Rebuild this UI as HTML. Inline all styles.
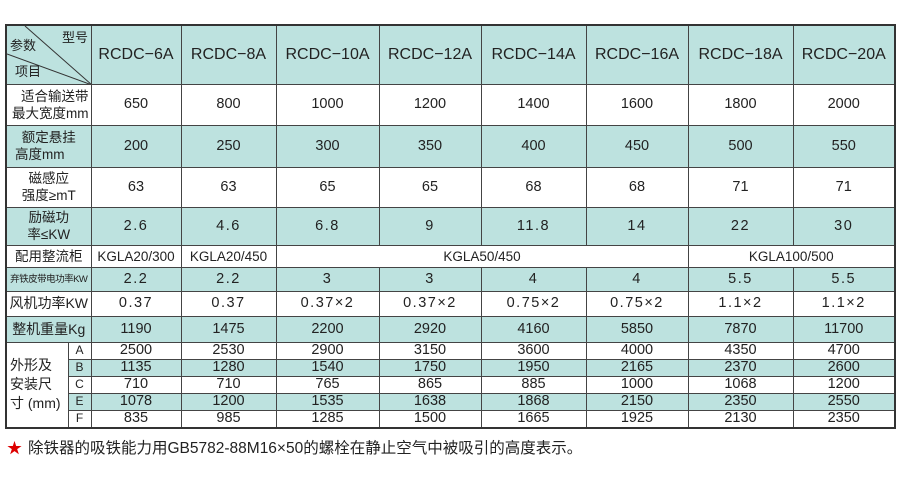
<!DOCTYPE html>
<html><head><meta charset="utf-8"><style>
body{margin:0;width:900px;height:488px;background:#fff;position:relative;overflow:hidden;font-family:"Liberation Sans","Noto Sans CJK SC",sans-serif;color:#222}
table{position:absolute;left:5px;top:24px;border-collapse:collapse;table-layout:fixed;border:2px solid #333}
td{border:1px solid #444;padding:0;text-align:center;font-size:14.5px;line-height:15px;overflow:hidden;white-space:nowrap}
.t td{background:#bde2df}
td.w{background:#fff!important}
.h td{font-size:16px}
.l{font-size:13.5px;line-height:17px}
.mono{letter-spacing:1.5px}
.foot{position:absolute;left:28px;top:436px;font-size:15.5px;font-family:"Liberation Sans","Noto Sans CJK SC",sans-serif;white-space:nowrap}
.star{position:absolute;left:7px;top:437px;color:#d00;font-size:15px}
</style></head><body>
<table>
<colgroup><col style="width:62px"><col style="width:23px"><col style="width:90px"><col style="width:95px"><col style="width:103px"><col style="width:102px"><col style="width:105px"><col style="width:102px"><col style="width:105px"><col style="width:102px"></colgroup>
<tr class="t h" style="height:59px"><td colspan="2" style="position:relative;text-align:left">
<svg width="85" height="59" style="position:absolute;left:0;top:0"><line x1="18" y1="0" x2="85" y2="59" stroke="#333" stroke-width="1"/><line x1="0" y1="28" x2="85" y2="59" stroke="#333" stroke-width="1"/></svg>
<span style="position:absolute;left:3px;top:12px;font-size:13px">参数</span><span style="position:absolute;left:55px;top:4px;font-size:13px">型号</span><span style="position:absolute;left:8px;top:38px;font-size:13px">项目</span></td>
<td>RCDC−6A</td><td>RCDC−8A</td><td>RCDC−10A</td><td>RCDC−12A</td><td>RCDC−14A</td><td>RCDC−16A</td><td>RCDC−18A</td><td>RCDC−20A</td></tr>
<tr style="height:41px"><td colspan="2" class="l" style="text-align:right;padding-right:2px">适合输送带<br>最大宽度mm</td><td>650</td><td>800</td><td>1000</td><td>1200</td><td>1400</td><td>1600</td><td>1800</td><td>2000</td></tr>
<tr class="t" style="height:42px"><td colspan="2" class="l">额定悬挂<br><span style="padding-right:18px">高度mm</span></td><td>200</td><td>250</td><td>300</td><td>350</td><td>400</td><td>450</td><td>500</td><td>550</td></tr>
<tr style="height:40px"><td colspan="2" class="l">磁感应<br>强度≥mT</td><td>63</td><td>63</td><td>65</td><td>65</td><td>68</td><td>68</td><td>71</td><td>71</td></tr>
<tr class="t mono" style="height:38px"><td colspan="2" class="l" style="letter-spacing:0">励磁功<br>率≤KW</td><td>2.6</td><td>4.6</td><td>6.8</td><td>9</td><td>11.8</td><td>14</td><td>22</td><td>30</td></tr>
<tr style="height:22px"><td colspan="2" class="l">配用整流柜</td><td style="font-size:13.5px">KGLA20/300</td><td style="font-size:13.5px">KGLA20/450</td><td colspan="4" style="font-size:13.5px">KGLA50/450</td><td colspan="2" style="font-size:13.5px">KGLA100/500</td></tr>
<tr class="t mono" style="height:24px"><td colspan="2" style="font-size:9.5px;letter-spacing:-0.5px">弃铁皮带电功率KW</td><td>2.2</td><td>2.2</td><td>3</td><td>3</td><td>4</td><td>4</td><td>5.5</td><td>5.5</td></tr>
<tr class="mono" style="height:25px"><td colspan="2" style="font-size:14px;letter-spacing:0">风机功率KW</td><td>0.37</td><td>0.37</td><td>0.37×2</td><td>0.37×2</td><td>0.75×2</td><td>0.75×2</td><td>1.1×2</td><td>1.1×2</td></tr>
<tr class="t" style="height:26px"><td colspan="2" style="font-size:14px">整机重量Kg</td><td>1190</td><td>1475</td><td>2200</td><td>2920</td><td>4160</td><td>5850</td><td>7870</td><td>11700</td></tr>
<tr style="height:17px"><td rowspan="5" class="w" style="text-align:left;font-size:14px;line-height:19px;padding-left:3px">外形及<br>安装尺<br>寸 (mm)</td><td style="font-size:12px">A</td><td>2500</td><td>2530</td><td>2900</td><td>3150</td><td>3600</td><td>4000</td><td>4350</td><td>4700</td></tr>
<tr class="t" style="height:17px"><td style="font-size:12px">B</td><td>1135</td><td>1280</td><td>1540</td><td>1750</td><td>1950</td><td>2165</td><td>2370</td><td>2600</td></tr>
<tr style="height:17px"><td style="font-size:12px">C</td><td>710</td><td>710</td><td>765</td><td>865</td><td>885</td><td>1000</td><td>1068</td><td>1200</td></tr>
<tr class="t" style="height:17px"><td style="font-size:12px">E</td><td>1078</td><td>1200</td><td>1535</td><td>1638</td><td>1868</td><td>2150</td><td>2350</td><td>2550</td></tr>
<tr style="height:18px"><td style="font-size:12px">F</td><td>835</td><td>985</td><td>1285</td><td>1500</td><td>1665</td><td>1925</td><td>2130</td><td>2350</td></tr>
</table>
<div class="star">★</div>
<div class="foot">除铁器的吸铁能力用GB5782-88M16×50的螺栓在静止空气中被吸引的高度表示。</div>
</body></html>
